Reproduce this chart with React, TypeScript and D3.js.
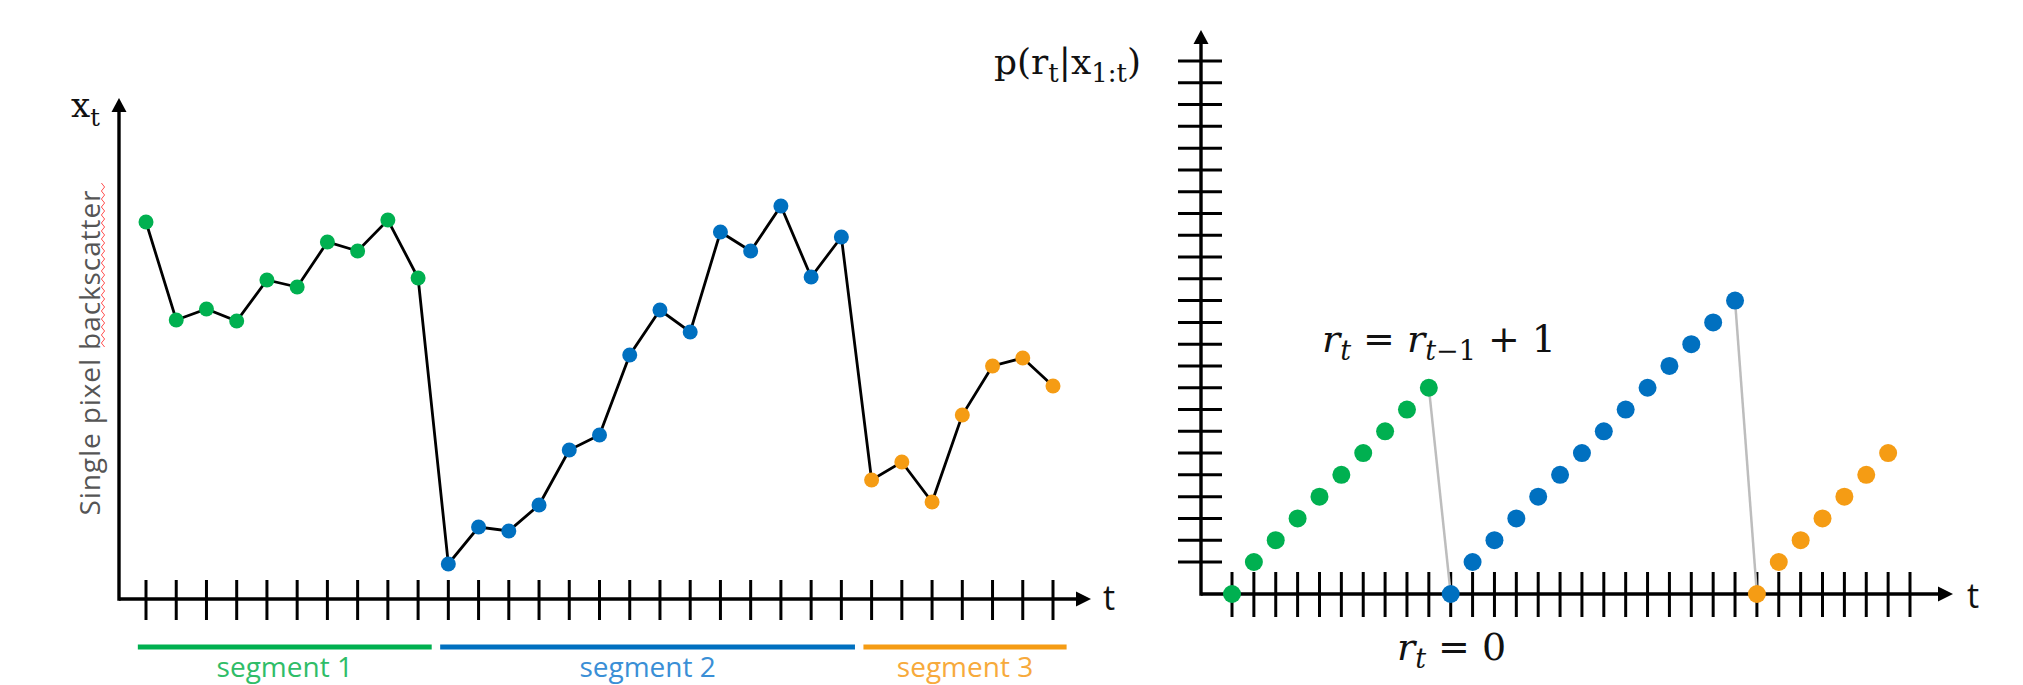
import * as d3 from "d3";

// left panel: observed signal x_t, one value per time step
const seg1Values = [75.4, 55.8, 58, 55.6, 63.8, 62.4, 71.4, 69.6, 75.8, 64.2];
const seg2Values = [7, 14.4, 13.6, 18.8, 29.8, 32.8, 48.8, 57.8, 53.4, 73.4, 69.6, 78.6, 64.4, 72.4];
const seg3Values = [23.8, 27.4, 19.4, 36.8, 46.6, 48.2, 42.6];
const segmentLabels = ["segment 1", "segment 2", "segment 3"];

// right panel: run length r_t per time step
const seg1Run = [0, 1, 2, 3, 4, 5, 6, 7, 8, 9];
const seg2Run = [0, 1, 2, 3, 4, 5, 6, 7, 8, 9, 10, 11, 12, 13];
const seg3Run = [0, 1, 2, 3, 4, 5, 6];

const leftTickCount = 31;
const rightXTickCount = 32;
const rightYTicks = d3.range(1, 25);

const colors = ["#00b050", "#0070c0", "#f59c14"];
const labelColors = ["#2fbd68", "#3a8fd6", "#f7aa3c"];

const W = 2023;
const H = 685;

const sans = "'Open Sans', 'DejaVu Sans', sans-serif";
const serif = "'DejaVu Serif', 'Liberation Serif', serif";

function arrowUp(x: number, y: number) {
  return `M${x},${y} L${x - 7.5},${y + 14} L${x + 7.5},${y + 14} Z`;
}
function arrowRight(x: number, y: number) {
  return `M${x},${y} L${x - 15},${y - 7.5} L${x - 15},${y + 7.5} Z`;
}

export default function App() {
  const segValues = [seg1Values, seg2Values, seg3Values];
  const segRuns = [seg1Run, seg2Run, seg3Run];

  // flatten into points with time index and segment id
  const points: { t: number; v: number; r: number; s: number }[] = [];
  let t = 0;
  segValues.forEach((vals, s) => {
    vals.forEach((v, i) => {
      points.push({ t, v, r: segRuns[s][i], s });
      t++;
    });
  });

  const segRanges = segValues.map((_, s) => {
    const pts = points.filter((p) => p.s === s);
    return { start: pts[0].t, end: pts[pts.length - 1].t };
  });

  // ---------- left chart ----------
  const originL = { x: 119, y: 599 };
  const xL = d3.scaleLinear().domain([0, leftTickCount - 1]).range([146, 1053]);
  const yL = d3.scaleLinear().domain([0, 100]).range([originL.y, 99]);
  const line = d3
    .line<{ t: number; v: number }>()
    .x((d) => xL(d.t))
    .y((d) => yL(d.v));

  // ---------- right chart ----------
  const originR = { x: 1201, y: 594 };
  const xR = d3.scaleLinear().domain([0, rightXTickCount - 1]).range([1232, 1910]);
  const yR = d3.scaleLinear().domain([0, 1, 24]).range([originR.y, 562, 61]);

  const resets = segRanges.slice(1).map((sr) => {
    const prev = points[sr.start - 1];
    const next = points[sr.start];
    return { x1: xR(prev.t), y1: yR(prev.r), x2: xR(next.t), y2: yR(next.r) };
  });

  // spell-check squiggle under "backscatter"
  const squiggle = d3
    .range(0, 42)
    .map((i) => `${i === 0 ? "M" : "L"}${103 + (i % 2 ? 1.6 : -1.6)},${183 + i * 4}`)
    .join(" ");

  return (
    <svg
      width={W}
      height={H}
      style={{ position: "absolute", left: 0, top: 0, display: "block", background: "#fff" }}
    >
      {/* left axes */}
      <g stroke="#000" fill="none" strokeWidth={3.4}>
        <line x1={originL.x} y1={originL.y + 1.7} x2={originL.x} y2={108} />
        <line x1={originL.x} y1={originL.y} x2={1080} y2={originL.y} />
      </g>
      <path d={arrowUp(originL.x, 98)} fill="#000" />
      <path d={arrowRight(1091, originL.y)} fill="#000" />
      <g stroke="#000" strokeWidth={3}>
        {d3.range(leftTickCount).map((i) => (
          <line key={i} x1={xL(i)} x2={xL(i)} y1={originL.y - 19} y2={originL.y + 21} />
        ))}
      </g>
      <text x={1103} y={610} fontFamily={sans} fontSize={34} fill="#111">
        t
      </text>
      <text x={71} y={117} fontFamily={serif} fontSize={34} fill="#111">
        x
        <tspan fontSize={24} dy={9}>
          t
        </tspan>
      </text>
      <text
        transform="translate(100,353) rotate(-90)"
        textAnchor="middle"
        fontFamily={sans}
        fontSize={28}
        fill="#555"
        textLength={325}
        lengthAdjust="spacing"
      >
        Single pixel backscatter
      </text>
      <path d={squiggle} stroke="#ff5050" strokeWidth={1} fill="none" />

      <path d={line(points) || ""} fill="none" stroke="#000" strokeWidth={2.8} />
      {points.map((p) => (
        <circle key={"l" + p.t} cx={xL(p.t)} cy={yL(p.v)} r={7.5} fill={colors[p.s]} />
      ))}

      {segRanges.map((sr, s) => {
        const x1 = xL(sr.start - 0.27);
        const x2 = xL(sr.end + 0.45);
        return (
          <g key={"seg" + s}>
            <line x1={x1} x2={x2} y1={647} y2={647} stroke={colors[s]} strokeWidth={5} />
            <text
              x={(x1 + x2) / 2}
              y={677}
              textAnchor="middle"
              fontFamily={sans}
              fontSize={28}
              fill={labelColors[s]}
            >
              {segmentLabels[s]}
            </text>
          </g>
        );
      })}

      {/* right axes */}
      <g stroke="#000" fill="none" strokeWidth={3.4}>
        <line x1={originR.x} y1={originR.y + 1.7} x2={originR.x} y2={40} />
        <line x1={originR.x} y1={originR.y} x2={1942} y2={originR.y} />
      </g>
      <path d={arrowUp(originR.x, 30)} fill="#000" />
      <path d={arrowRight(1953, originR.y)} fill="#000" />
      <g stroke="#000" strokeWidth={3}>
        {rightYTicks.map((v) => (
          <line key={"ry" + v} x1={originR.x - 23} x2={originR.x + 21} y1={yR(v)} y2={yR(v)} />
        ))}
        {d3.range(rightXTickCount).map((i) => (
          <line key={"rx" + i} x1={xR(i)} x2={xR(i)} y1={originR.y - 22} y2={originR.y + 23} />
        ))}
      </g>
      <text x={1967} y={608} fontFamily={sans} fontSize={34} fill="#111">
        t
      </text>
      <text x={994} y={74} fontFamily={serif} fontSize={36} fill="#111">
        p(r
        <tspan fontSize={26} dy={8}>
          t
        </tspan>
        <tspan dy={-8}>|x</tspan>
        <tspan fontSize={26} dy={8}>
          1:t
        </tspan>
        <tspan dy={-8}>)</tspan>
      </text>

      {resets.map((l, i) => (
        <line key={"g" + i} {...l} stroke="#bdbdbd" strokeWidth={2.5} />
      ))}
      {points.map((p) => (
        <circle key={"r" + p.t} cx={xR(p.t)} cy={yR(p.r)} r={9} fill={colors[p.s]} />
      ))}

      <text x={1322} y={352} fontFamily={serif} fontSize={38} fill="#111">
        <tspan fontStyle="italic">r</tspan>
        <tspan fontStyle="italic" fontSize={27} dy={8}>
          t
        </tspan>
        <tspan dy={-8}> = </tspan>
        <tspan fontStyle="italic">r</tspan>
        <tspan fontSize={27} dy={8}>
          <tspan fontStyle="italic">t</tspan>−1
        </tspan>
        <tspan dy={-8}> + 1</tspan>
      </text>
      <text x={1397} y={660} fontFamily={serif} fontSize={38} fill="#111">
        <tspan fontStyle="italic">r</tspan>
        <tspan fontStyle="italic" fontSize={27} dy={8}>
          t
        </tspan>
        <tspan dy={-8}> = 0</tspan>
      </text>
    </svg>
  );
}
